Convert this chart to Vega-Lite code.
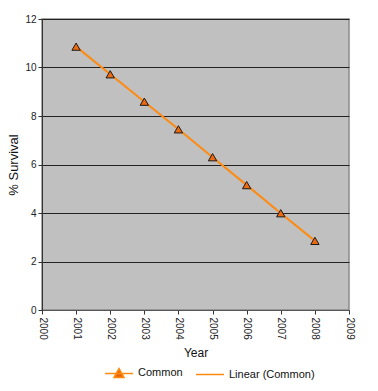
{
  "$schema": "https://vega.github.io/schema/vega-lite/v6.json",
  "width": 307,
  "height": 291,
  "autosize": "none",
  "padding": {"left": 42, "top": 19, "right": 29, "bottom": 81},
  "background": "white",
  "config": {
    "font": "Liberation Sans",
    "view": {"fill": "#C0C0C0", "stroke": "#8a8a8a", "strokeWidth": 1.5}
  },
  "data": {
    "values": [
      {"year": 2001, "survival": 10.86},
      {"year": 2002, "survival": 9.72},
      {"year": 2003, "survival": 8.59},
      {"year": 2004, "survival": 7.45},
      {"year": 2005, "survival": 6.3},
      {"year": 2006, "survival": 5.15},
      {"year": 2007, "survival": 3.99},
      {"year": 2008, "survival": 2.85}
    ]
  },
  "encoding": {
    "x": {
      "field": "year",
      "type": "quantitative",
      "scale": {"domain": [2000, 2009], "nice": false, "zero": false},
      "axis": {
        "title": "Year",
        "values": [2000, 2001, 2002, 2003, 2004, 2005, 2006, 2007, 2008, 2009],
        "format": "d",
        "labelAngle": 90,
        "labelAlign": "left",
        "labelBaseline": "middle",
        "labelFontSize": 10,
        "labelColor": "#222",
        "labelPadding": 3,
        "tickSize": 4,
        "tickColor": "#333",
        "domainColor": "#555",
        "grid": false,
        "titleFontSize": 12,
        "titleFontWeight": "normal",
        "titleColor": "#111",
        "titlePadding": 8
      }
    },
    "y": {
      "field": "survival",
      "type": "quantitative",
      "scale": {"domain": [0, 12], "nice": false},
      "axis": {
        "title": "% Survival",
        "values": [0, 2, 4, 6, 8, 10, 12],
        "labelFontSize": 10,
        "labelColor": "#222",
        "labelPadding": 2,
        "tickSize": 4,
        "tickColor": "#333",
        "domainColor": "#333",
        "grid": true,
        "gridColor": "#222",
        "gridOpacity": 1,
        "gridWidth": 1,
        "titleFontSize": 13,
        "titleFontWeight": "normal",
        "titleColor": "#111",
        "titlePadding": 4
      }
    }
  },
  "layer": [
    {
      "mark": {"type": "line", "strokeWidth": 2},
      "encoding": {
        "color": {
          "datum": "Linear (Common)",
          "scale": {"domain": ["Common", "Linear (Common)"], "range": ["#FF8A10", "#FF8A10"]},
          "legend": {
            "title": null,
            "orient": "none",
            "direction": "horizontal",
            "legendX": 62,
            "legendY": 339,
            "labelFontSize": 11,
            "labelColor": "#111",
            "symbolSize": 784,
            "symbolStrokeWidth": 1.5,
            "columnPadding": 10,
            "labelOffset": 4,
            "encode": {
              "symbols": {
                "update": {
                  "shape": {"signal": "datum.value === 'Common' ? 'M-1,0H1M-0.36,0.3L0,-0.34L0.36,0.3Z' : 'M-1,0H1'"},
                  "fill": {"signal": "datum.value === 'Common' ? '#E8640C' : 'transparent'"},
                  "stroke": {"value": "#FF8A10"}
                }
              }
            }
          }
        }
      }
    },
    {
      "mark": {
        "type": "point",
        "shape": "triangle-up",
        "filled": true,
        "fill": "#EE6A10",
        "stroke": "#1a1a1a",
        "strokeWidth": 1,
        "size": 70,
        "opacity": 1
      }
    }
  ]
}
